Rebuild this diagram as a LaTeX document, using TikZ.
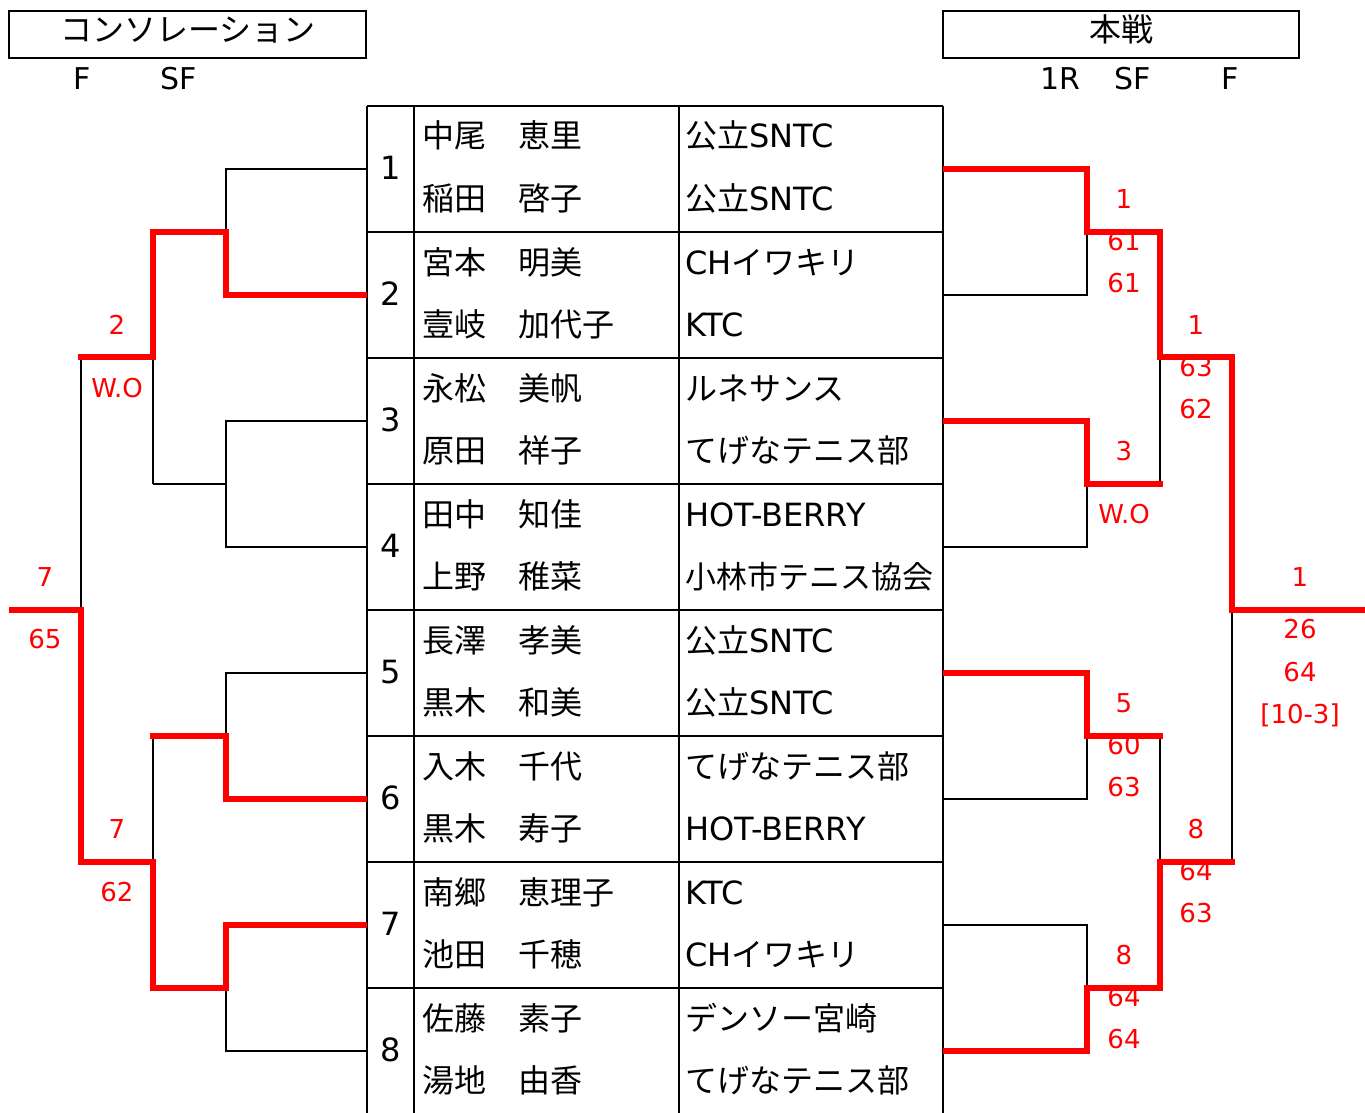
\documentclass[tikz,border=0pt]{standalone}
\usepackage{fontspec}
\setmainfont{DejaVu Sans}
\newfontfamily\jp{Noto Sans CJK JP}
\newcommand\J[1]{{\jp #1}}
\begin{document}
\begin{tikzpicture}[x=1pt,y=-1pt,
  blk/.style={line width=2pt, line join=miter},
  win/.style={red, line width=6.5pt, line join=miter, line cap=rect},
  nm/.style={anchor=base west, inner sep=0pt, font=\fontsize{32}{32}\selectfont},
  sd/.style={anchor=base, inner sep=0pt, font=\fontsize{32}{32}\selectfont},
  sc/.style={anchor=base, inner sep=0pt, text=red, font=\fontsize{26}{26}\selectfont},
  hd/.style={anchor=base, inner sep=0pt, font=\fontsize{30}{30}\selectfont},
  ttl/.style={anchor=base, inner sep=0pt, font=\fontsize{32}{32}\selectfont\jp}]
\useasboundingbox (0,0) rectangle (1365,1113);

% headers
\draw[blk] (9,11) rectangle (366,58);
\node[ttl] (tcons) at (188,42) {コンソレーション};
\draw[blk] (943,11) rectangle (1299,58);
\node[ttl] (tmain) at (1121,42) {本戦};
\node[hd] (hF1) at (82.5,90) {F};
\node[hd] (hSF1) at (179,90) {SF};
\node[hd] (h1R) at (1060,90) {1R};
\node[hd] (hSF2) at (1133,90) {SF};
\node[hd] (hF2) at (1230,90) {F};

% table
\foreach \x in {367,414,679,943} \draw[blk] (\x,106) -- (\x,1113);
\foreach \y in {106,232,358,484,610,736,862,988} \draw[blk] (367,\y) -- (943,\y);

% seeds
\foreach \i in {1,...,8} {
  \pgfmathsetmacro\ry{106+126*(\i-1)}
  \node[sd] (s\i) at (390.5,{\ry+73}) {\i};
}

% names and clubs
\node[nm] (na1) at (422,148) {\J{中尾　恵里}};
\node[nm] (nb1) at (422,210) {\J{稲田　啓子}};
\node[nm] (ca1) at (685,148) {\J{公立}SNTC};
\node[nm] (cb1) at (685,210) {\J{公立}SNTC};
\node[nm] (na2) at (422,274) {\J{宮本　明美}};
\node[nm] (nb2) at (422,336) {\J{壹岐　加代子}};
\node[nm] (ca2) at (685,274) {CH\J{イワキリ}};
\node[nm] (cb2) at (685,336) {KTC};
\node[nm] (na3) at (422,400) {\J{永松　美帆}};
\node[nm] (nb3) at (422,462) {\J{原田　祥子}};
\node[nm] (ca3) at (685,400) {\J{ルネサンス}};
\node[nm] (cb3) at (685,462) {\J{てげなテニス部}};
\node[nm] (na4) at (422,526) {\J{田中　知佳}};
\node[nm] (nb4) at (422,588) {\J{上野　稚菜}};
\node[nm] (ca4) at (685,526) {HOT-BERRY};
\node[nm,font=\fontsize{31}{31}\selectfont] (cb4) at (685,588) {\J{小林市テニス協会}};
\node[nm] (na5) at (422,652) {\J{長澤　孝美}};
\node[nm] (nb5) at (422,714) {\J{黒木　和美}};
\node[nm] (ca5) at (685,652) {\J{公立}SNTC};
\node[nm] (cb5) at (685,714) {\J{公立}SNTC};
\node[nm] (na6) at (422,778) {\J{入木　千代}};
\node[nm] (nb6) at (422,840) {\J{黒木　寿子}};
\node[nm] (ca6) at (685,778) {\J{てげなテニス部}};
\node[nm] (cb6) at (685,840) {HOT-BERRY};
\node[nm] (na7) at (422,904) {\J{南郷　恵理子}};
\node[nm] (nb7) at (422,966) {\J{池田　千穂}};
\node[nm] (ca7) at (685,904) {KTC};
\node[nm] (cb7) at (685,966) {CH\J{イワキリ}};
\node[nm] (na8) at (422,1030) {\J{佐藤　素子}};
\node[nm] (nb8) at (422,1092) {\J{湯地　由香}};
\node[nm] (ca8) at (685,1030) {\J{デンソー宮崎}};
\node[nm] (cb8) at (685,1092) {\J{てげなテニス部}};

% scores (left)
\node[sc] (l1w) at (117,334.5) {2};
\node[sc] (l1s) at (117,397.5) {W.O};
\node[sc] (lfw) at (45,586.5) {7};
\node[sc] (lfs) at (45,648.5) {65};
\node[sc] (l2w) at (117,838.5) {7};
\node[sc] (l2s) at (117,901.5) {62};
% scores (right)
\node[sc] (r1w) at (1124,208.5) {1};
\node[sc] (r1a) at (1124,250.5) {61};
\node[sc] (r1b) at (1124,292.5) {61};
\node[sc] (r2w) at (1124,460.5) {3};
\node[sc] (r2a) at (1124,523.5) {W.O};
\node[sc] (rs1w) at (1196,334.5) {1};
\node[sc] (rs1a) at (1196,376.5) {63};
\node[sc] (rs1b) at (1196,418.5) {62};
\node[sc] (r3w) at (1124,712.5) {5};
\node[sc] (r3a) at (1124,754.5) {60};
\node[sc] (r3b) at (1124,796.5) {63};
\node[sc] (rs2w) at (1196,838.5) {8};
\node[sc] (rs2a) at (1196,880.5) {64};
\node[sc] (rs2b) at (1196,922.5) {63};
\node[sc] (r4w) at (1124,964.5) {8};
\node[sc] (r4a) at (1124,1006.5) {64};
\node[sc] (r4b) at (1124,1048.5) {64};
\node[sc] (rfw) at (1300,586.5) {1};
\node[sc] (rfa) at (1300,638.5) {26};
\node[sc] (rfb) at (1300,681.5) {64};
\node[sc] (rfc) at (1300,723.5) {[10-3]};

% black brackets, left
\foreach \a/\b/\m in {169/295/232, 421/547/484, 673/799/736, 925/1051/988} {
  \draw[blk] (367,\a) -- (226,\a) -- (226,\b) -- (367,\b);
  \draw[blk] (226,\m) -- (153,\m);
  \draw[blk] (943,\a) -- (1087,\a) -- (1087,\b) -- (943,\b);
  \draw[blk] (1087,\m) -- (1160,\m);
}
\draw[blk] (153,232) -- (153,484); \draw[blk] (153,357) -- (81,357);
\draw[blk] (153,736) -- (153,988); \draw[blk] (153,862) -- (81,862);
\draw[blk] (81,357) -- (81,862); \draw[blk] (81,610) -- (9,610);
\draw[blk] (1160,232) -- (1160,484); \draw[blk] (1160,357) -- (1232,357);
\draw[blk] (1160,736) -- (1160,988); \draw[blk] (1160,862) -- (1232,862);
\draw[blk] (1232,357) -- (1232,862); \draw[blk] (1232,610) -- (1365,610);

% winners, left
\draw[win] (364,295) -- (226,295) -- (226,232) -- (153,232) -- (153,357) -- (81,357);
\draw[win] (364,799) -- (226,799) -- (226,736) -- (153,736);
\draw[win] (364,925) -- (226,925) -- (226,988) -- (153,988) -- (153,862) -- (81,862) -- (81,610) -- (12,610);
% winners, right
\draw[win] (946,169) -- (1087,169) -- (1087,232) -- (1160,232) -- (1160,357) -- (1232,357) -- (1232,610) -- (1368,610);
\draw[win] (946,421) -- (1087,421) -- (1087,484) -- (1160,484);
\draw[win] (946,673) -- (1087,673) -- (1087,736) -- (1160,736);
\draw[win] (946,1051) -- (1087,1051) -- (1087,988) -- (1160,988) -- (1160,862) -- (1232,862);
\end{tikzpicture}
\end{document}
